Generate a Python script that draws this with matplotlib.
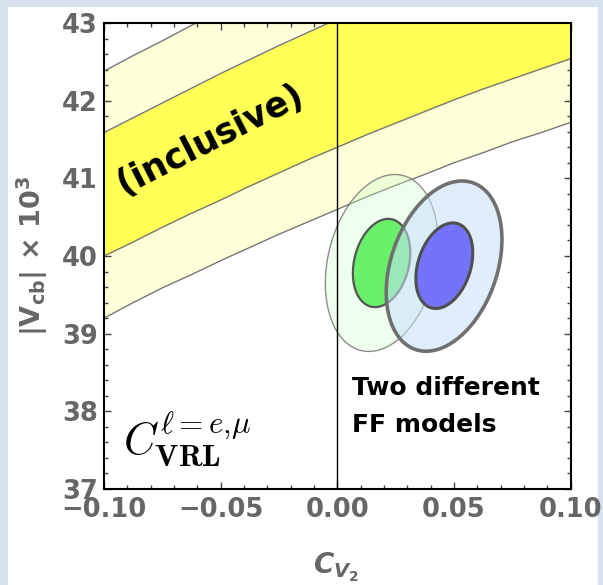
import numpy as np
import matplotlib
matplotlib.use("Agg")
import matplotlib.pyplot as plt
from matplotlib.patches import Rectangle, Polygon
from matplotlib.ticker import MultipleLocator

# ---- data ----
cv2 = [-0.10, -0.0875, -0.075, -0.0625, -0.05, -0.0375, -0.025, -0.0125, 0.0,
       0.0125, 0.025, 0.0375, 0.05, 0.0625, 0.075, 0.0875, 0.10]
inner_lo = [40.00, 40.18, 40.37, 40.55, 40.72, 40.90, 41.07, 41.24, 41.40,
            41.56, 41.71, 41.86, 42.01, 42.15, 42.28, 42.41, 42.54]
inner_hi = [41.59, 41.78, 41.97, 42.16, 42.35, 42.53, 42.71, 42.88, 43.05,
            43.22, 43.38, 43.53, 43.68, 43.83, 43.97, 44.10, 44.23]
outer_lo = [39.20, 39.40, 39.59, 39.76, 39.94, 40.11, 40.28, 40.44, 40.60,
            40.76, 40.91, 41.05, 41.20, 41.33, 41.47, 41.59, 41.72]
outer_hi = [42.38, 42.58, 42.77, 42.97, 43.15, 43.34, 43.52, 43.70, 43.87,
            44.04, 44.20, 44.36, 44.51, 44.66, 44.80, 44.94, 45.08]

# ellipses: centre x, centre y, half-extent x, half-extent y, correlation
green_outer = (0.0191, 39.91, 0.0242, 1.139, 0.23)
green_inner = (0.0190, 39.91, 0.0123, 0.568, 0.23)
blue_outer = (0.0458, 39.87, 0.0248, 1.096, 0.31)
blue_inner = (0.0459, 39.875, 0.0122, 0.551, 0.30)

xticks = [-0.10, -0.05, 0.00, 0.05, 0.10]
xticklabels = ["\u22120.10", "\u22120.05", "0.00", "0.05", "0.10"]
yticks = [37, 38, 39, 40, 41, 42, 43]

W, H = 603, 585
fig = plt.figure(figsize=(W / 100, H / 100), dpi=100, facecolor="#D6E3EF")
fig.add_artist(Rectangle((8 / W, 0), (598 - 8) / W, 1 - 7 / H, transform=fig.transFigure,
                         facecolor="white", edgecolor="none", zorder=-10))

ax = fig.add_axes([104 / W, (H - 489) / H, 466.5 / W, 466 / H])
ax.set_xlim(-0.10, 0.10)
ax.set_ylim(37, 43)

ax.fill_between(cv2, outer_lo, outer_hi, color="#FFFFDA", lw=0, zorder=1)
ax.fill_between(cv2, inner_lo, inner_hi, color="#FFFF55", lw=0, zorder=2)
for arr in (inner_lo, inner_hi, outer_lo, outer_hi):
    ax.plot(cv2, arr, color="#777777", lw=1.0, zorder=3)


def ellipse_poly(p, **kw):
    x0, y0, wx, wy, rho = p
    t = np.linspace(0, 2 * np.pi, 240)
    xs = x0 + wx * np.cos(t)
    ys = y0 + wy * (rho * np.cos(t) + np.sqrt(1 - rho ** 2) * np.sin(t))
    return Polygon(np.column_stack([xs, ys]), closed=True, **kw)


ax.add_patch(ellipse_poly(green_outer, facecolor=(0.80, 1.0, 0.80, 0.32),
                          edgecolor=(0.45, 0.45, 0.45, 0.8), lw=1.0, zorder=4))
ax.axvline(0, color="black", lw=1.0, zorder=5)
ax.add_patch(ellipse_poly(green_inner, facecolor=(0.38, 0.94, 0.38, 0.95),
                          edgecolor="#555555", lw=1.6, zorder=6))
ax.add_patch(ellipse_poly(blue_outer, facecolor=(0.78, 0.88, 0.98, 0.55),
                          edgecolor="#707070", lw=2.6, zorder=7))
ax.add_patch(ellipse_poly(blue_inner, facecolor=(0.43, 0.43, 0.98, 0.95),
                          edgecolor="#505050", lw=2.2, zorder=8))

# ticks
ax.set_xticks(xticks)
ax.set_xticklabels(xticklabels)
ax.set_yticks(yticks)
ax.xaxis.set_minor_locator(MultipleLocator(0.01))
ax.yaxis.set_minor_locator(MultipleLocator(0.2))
ax.tick_params(which="both", direction="in", top=True, right=True, color="#444444", width=1.0)
ax.tick_params(which="major", length=5)
ax.tick_params(which="minor", length=3)
ax.tick_params(axis="x", which="major", pad=6)
ax.tick_params(axis="y", which="major", pad=4.5)
for lab in ax.get_xticklabels() + ax.get_yticklabels():
    lab.set_fontsize(18.5)
    lab.set_fontweight("heavy")
    lab.set_color("#666666")
    lab.set_family("DejaVu Sans")
for s in ax.spines.values():
    s.set_color("black")
    s.set_linewidth(1.5)
    s.set_zorder(12)

# axis labels
ylab = "|$\\mathbf{V}_{\\mathbf{cb}}$| \u00d7 10$^{\\mathbf{3}}$"
ax.text((32 - 104) / 466.5, 0.5, ylab,
        transform=ax.transAxes, rotation=90, ha="center", va="center",
        fontsize=19.5, fontweight="bold", color="#666666", math_fontfamily="dejavusans")
ax.text((336 - 104) / 466.5, (489 - 567) / 466, r"$\mathbfit{C}_{\mathbfit{V}_{\mathbf{2}}}$",
        transform=ax.transAxes, ha="center", va="center",
        fontsize=20, color="#666666", math_fontfamily="dejavusans")

# annotations
ax.text(-0.0545, 41.50, "(inclusive)", rotation=27, ha="center", va="center",
        rotation_mode="anchor", fontsize=25, fontweight="bold", color="black", zorder=10)
ax.text(0.0063, 38.21, "Two different", ha="left", va="baseline",
        fontsize=18, fontweight="bold", color="black", zorder=10)
ax.text(0.0063, 37.73, "FF models", ha="left", va="baseline",
        fontsize=18, fontweight="bold", color="black", zorder=10)
ax.text(-0.0917, 37.44, r"$C^{\ell{=}e{,}\mu}_{\mathbf{VRL}}$", ha="left", va="baseline",
        fontsize=32, color="black", math_fontfamily="cm", zorder=10)

fig.savefig("out.png", dpi=100, facecolor=fig.get_facecolor())
